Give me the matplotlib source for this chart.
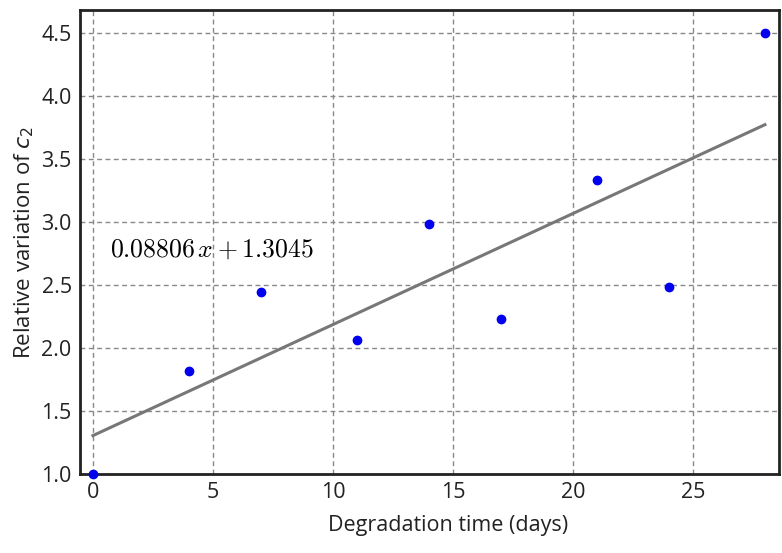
import numpy as np
import matplotlib.pyplot as plt

plt.rcParams['font.family'] = ['Open Sans', 'DejaVu Sans']

# data
days = [0, 4, 7, 11, 14, 17, 21, 24, 28]
rel_c2 = [1.0, 1.82, 2.44, 2.06, 2.98, 2.23, 3.33, 2.48, 4.5]
slope = 0.08806
intercept = 1.3045
fit_x = [0, 28]
xticks = [0, 5, 10, 15, 20, 25]
yticks = [1.0, 1.5, 2.0, 2.5, 3.0, 3.5, 4.0, 4.5]

fig = plt.figure(figsize=(7.82, 5.53), dpi=100)
ax = fig.add_axes([0.1023, 0.1429, 0.8937, 0.8391])

fx = np.array(fit_x)
ax.plot(fx, slope * fx + intercept, color='#777777', lw=2.2, zorder=2)
ax.plot(days, rel_c2, 'o', color='#0000ee', ms=6, zorder=3, clip_on=False)

ax.text(0.7, 2.72, r'$%.5f\,x + %.4f$' % (slope, intercept), fontsize=18.5,
        math_fontfamily='cm')

ax.set_xlim(-0.54, 28.58)
ax.set_ylim(1.0, 4.68)
ax.set_xticks(xticks)
ax.set_yticks(yticks)
ax.set_yticklabels(['%.1f' % v for v in yticks])
ax.tick_params(labelsize=15.5, length=0, pad=6, colors='#222222')
ax.grid(True, ls=(0, (3.5, 2.5)), color='#888888', lw=1)
for s in ax.spines.values():
    s.set_linewidth(2)
    s.set_color('#222222')

ax.set_xlabel('Degradation time (days)', fontsize=15.5, color='#222222')
ax.xaxis.set_label_coords(0.526, -0.088)
ax.set_ylabel(r'Relative variation of $\mathit{c}_2$', fontsize=16, color='#222222',
              math_fontfamily='dejavusans')

plt.savefig('out.png', dpi=100)
